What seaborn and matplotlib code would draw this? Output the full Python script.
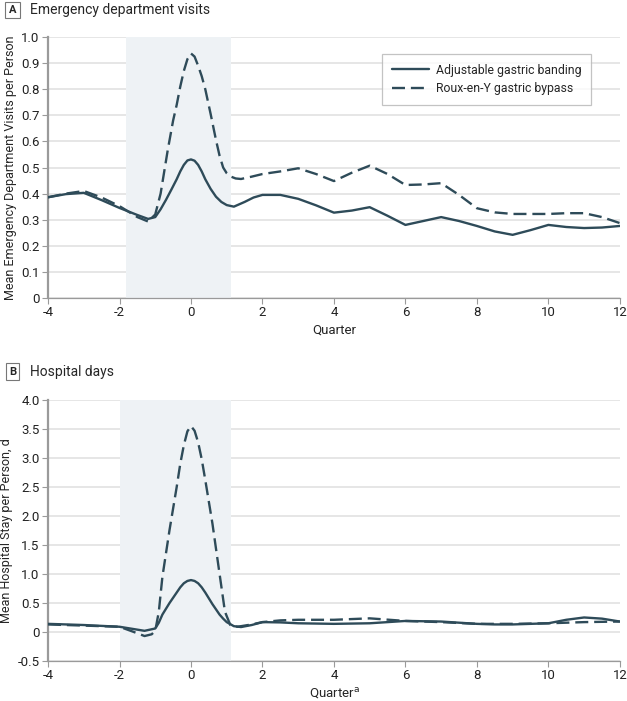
import pandas as pd
import seaborn as sns
import matplotlib.pyplot as plt

# Series labels
proc_band = "Adjustable gastric banding"
proc_bypass = "Roux-en-Y gastric bypass"

# Panel A - emergency department visits
ed_band_q = [-4, -3.5, -3, -2.5, -2, -1.5, -1.2, -1.0, -0.85, -0.7, -0.55, -0.4, -0.3, -0.2, -0.1, 0,
             0.1, 0.2, 0.3, 0.4, 0.55, 0.7, 0.85, 1.0, 1.2, 1.5, 1.75,
             2, 2.5, 3, 3.5, 4, 4.5, 5, 5.5, 6, 6.5, 7, 7.5, 8, 8.5, 9, 9.5, 10, 10.5, 11, 11.5, 12]
ed_band = [0.386, 0.398, 0.403, 0.375, 0.345, 0.318, 0.303, 0.31, 0.34, 0.376, 0.415, 0.455, 0.485,
           0.51, 0.527, 0.531, 0.526, 0.51, 0.485, 0.455, 0.418, 0.388, 0.368, 0.356, 0.350, 0.368, 0.385,
           0.395, 0.395, 0.38, 0.355, 0.327, 0.335, 0.348, 0.315, 0.28, 0.295,
           0.31, 0.295, 0.276, 0.255, 0.242, 0.26, 0.28, 0.272, 0.268, 0.27, 0.276]
ed_bypass_q = [-4, -3.5, -3, -2.5, -2, -1.5, -1.2, -1.0, -0.85, -0.65, -0.5, -0.4, -0.3, -0.2, -0.1, 0,
               0.1, 0.2, 0.3, 0.4, 0.55, 0.7, 0.8, 0.9, 1.0, 1.1, 1.25, 1.4, 1.7, 2, 2.5, 3, 3.5, 4, 4.5,
               5, 5.5, 6, 6.5, 7, 7.5, 8, 8.5, 9, 9.5, 10, 10.5, 11, 11.5, 12]
ed_bypass = [0.386, 0.40, 0.41, 0.385, 0.352, 0.31, 0.293, 0.32, 0.40, 0.567, 0.68, 0.74, 0.81, 0.87,
             0.915, 0.937, 0.925, 0.89, 0.85, 0.80, 0.705, 0.605, 0.545, 0.50, 0.478, 0.466, 0.458, 0.456,
             0.465, 0.475, 0.485, 0.497, 0.475, 0.448, 0.48, 0.507, 0.475, 0.433, 0.435, 0.44, 0.395,
             0.344, 0.328, 0.322, 0.322, 0.322, 0.325, 0.325, 0.31, 0.287]

# Panel B - hospital days
hd_band_q = [-4, -3, -2, -1.6, -1.3, -1.0, -0.9, -0.8, -0.6, -0.4, -0.3, -0.2, -0.1, 0, 0.1, 0.2, 0.3,
             0.4, 0.6, 0.8, 0.9, 1.0, 1.2, 1.4, 1.7, 2, 2.5, 3, 4, 5, 6, 7, 8, 8.5, 9, 10, 10.5, 11,
             11.5, 12]
hd_band = [0.14, 0.12, 0.09, 0.05, 0.02, 0.06, 0.16, 0.30, 0.50, 0.68, 0.77, 0.84, 0.88, 0.895, 0.88,
           0.84, 0.77, 0.68, 0.48, 0.30, 0.23, 0.17, 0.10, 0.085, 0.12, 0.17, 0.165, 0.15, 0.14, 0.15,
           0.19, 0.18, 0.14, 0.13, 0.13, 0.15, 0.21, 0.25, 0.23, 0.18]
hd_bypass_q = [-4, -3, -2, -1.6, -1.3, -1.1, -1.0, -0.9, -0.8, -0.6, -0.4, -0.3, -0.2, -0.1, 0, 0.1,
               0.2, 0.3, 0.4, 0.6, 0.8, 0.95, 1.1, 1.3, 1.7, 2, 2.5, 3, 4, 5, 6, 7, 8, 9, 10, 11, 12]
hd_bypass = [0.13, 0.11, 0.09, 0.0, -0.07, -0.04, 0.02, 0.35, 0.95, 1.76, 2.5, 2.9, 3.22, 3.46, 3.55,
             3.47, 3.27, 2.98, 2.62, 1.87, 1.0, 0.35, 0.12, 0.09, 0.13, 0.17, 0.2, 0.21, 0.21, 0.235,
             0.19, 0.17, 0.14, 0.14, 0.15, 0.17, 0.18]

x_ticks = [-4, -2, 0, 2, 4, 6, 8, 10, 12]
ed_ticks = [0, 0.1, 0.2, 0.3, 0.4, 0.5, 0.6, 0.7, 0.8, 0.9, 1.0]
ed_tick_labels = ["0", "0.1", "0.2", "0.3", "0.4", "0.5", "0.6", "0.7", "0.8", "0.9", "1.0"]
hd_ticks = [-0.5, 0, 0.5, 1.0, 1.5, 2.0, 2.5, 3.0, 3.5, 4.0]
hd_tick_labels = ["-0.5", "0", "0.5", "1.0", "1.5", "2.0", "2.5", "3.0", "3.5", "4.0"]

line_color = "#2e4b59"
shade_color = "#eef2f5"
grid_color = "#e4e4e4"
spine_color = "#9a9a9a"

sns.set_style("white")
plt.rcParams['font.family'] = ['Roboto', 'DejaVu Sans']
plt.rcParams['font.size'] = 9


def long_df(bq, bv, pq, pv):
    a = pd.DataFrame({"Quarter": bq, "Value": bv, "Procedure": proc_band})
    b = pd.DataFrame({"Quarter": pq, "Value": pv, "Procedure": proc_bypass})
    return pd.concat([a, b], ignore_index=True)


def style_axis(ax, ylim, yticks, ylabels, ylabel, xlabel):
    ax.set_xlim(-4, 12)
    ax.set_ylim(*ylim)
    ax.set_xticks(x_ticks)
    ax.set_xticklabels([str(t) for t in x_ticks])
    ax.set_yticks(yticks)
    ax.set_yticklabels(ylabels)
    ax.set_ylabel(ylabel, fontsize=9, labelpad=3)
    ax.set_xlabel(xlabel, fontsize=9.5, labelpad=3)
    ax.tick_params(axis="both", length=4, width=0.8, color=spine_color, labelsize=9.5, pad=2,
                   labelcolor="#222222", left=True, bottom=True)
    ax.grid(axis="y", color=grid_color, linewidth=1.3, zorder=0)
    ax.grid(axis="x", visible=False)
    ax.set_axisbelow(True)
    for s in ["top", "right"]:
        ax.spines[s].set_visible(False)
    ax.spines["left"].set_color(spine_color)
    ax.spines["left"].set_linewidth(1.6)
    ax.spines["bottom"].set_color(spine_color)
    ax.spines["bottom"].set_linewidth(0.9)


fig = plt.figure(figsize=(6.27, 7.01), dpi=100)
ax1 = fig.add_axes([0.0766, 0.5749, 0.912, 0.3723])
ax2 = fig.add_axes([0.0766, 0.0571, 0.912, 0.3723])

palette = {proc_band: line_color, proc_bypass: line_color}
dashes = {proc_band: "", proc_bypass: (5.5, 2.5)}

# Panel A
ax1.axvspan(-1.82, 1.13, color=shade_color, zorder=1, lw=0)
sns.lineplot(data=long_df(ed_band_q, ed_band, ed_bypass_q, ed_bypass), x="Quarter", y="Value",
             hue="Procedure", style="Procedure", palette=palette, dashes=dashes,
             estimator=None, linewidth=1.7, ax=ax1, zorder=3)
style_axis(ax1, (0, 1.0), ed_ticks, ed_tick_labels,
           "Mean Emergency Department Visits per Person", "Quarter")
leg = ax1.legend(loc="upper right", bbox_to_anchor=(0.950, 0.935), frameon=True, fancybox=False,
                 fontsize=8.8, handlelength=3.0, borderpad=0.8, labelspacing=0.45, handletextpad=0.6,
                 borderaxespad=0)
leg.get_frame().set_edgecolor("#b5b5b5")
leg.get_frame().set_linewidth(0.9)

# Panel B
ax2.axvspan(-2.0, 1.12, color=shade_color, zorder=1, lw=0)
sns.lineplot(data=long_df(hd_band_q, hd_band, hd_bypass_q, hd_bypass), x="Quarter", y="Value",
             hue="Procedure", style="Procedure", palette=palette, dashes=dashes,
             estimator=None, linewidth=1.7, ax=ax2, zorder=3, legend=False)
style_axis(ax2, (-0.5, 4.0), hd_ticks, hd_tick_labels,
           "Mean Hospital Stay per Person, d", "Quarter$^{\\mathrm{a}}$")

# panel headers
box = dict(boxstyle="square,pad=0.3", fc="white", ec="#777777", lw=0.8)
fig.text(0.020, 0.9855, "A", fontsize=8, fontweight="bold", ha="center", va="center", bbox=box)
fig.text(0.048, 0.9855, "Emergency department visits", fontsize=10, ha="left", va="center")
fig.text(0.020, 0.470, "B", fontsize=8, fontweight="bold", ha="center", va="center", bbox=box)
fig.text(0.048, 0.470, "Hospital days", fontsize=10, ha="left", va="center")

fig.savefig("out.png", dpi=100)
